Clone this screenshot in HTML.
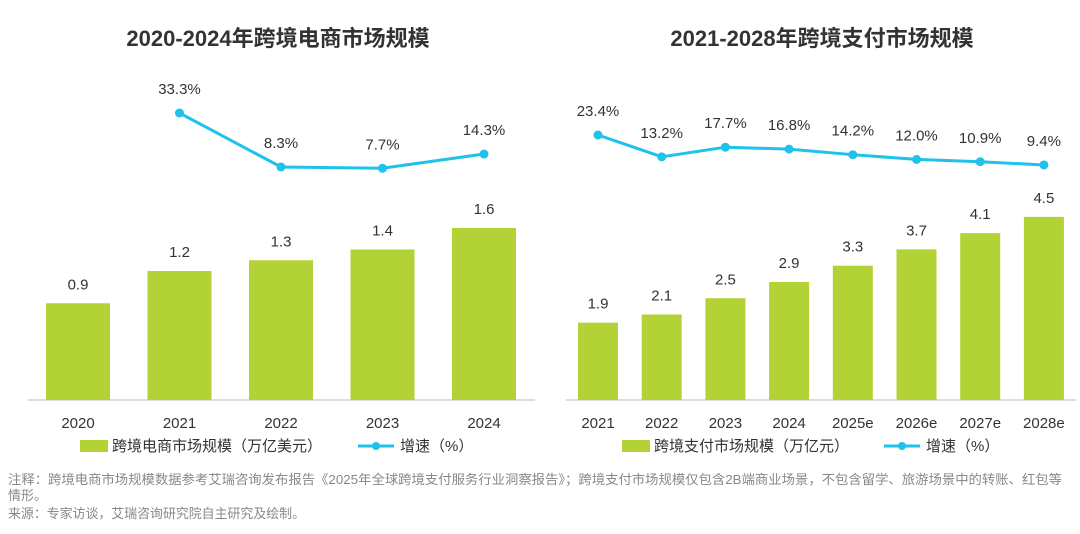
<!DOCTYPE html>
<html><head><meta charset="utf-8">
<style>
body{margin:0;background:#fff;width:1080px;height:529px;overflow:hidden;font-family:"Liberation Sans","Noto Sans CJK SC",sans-serif;}
svg text{font-family:"Liberation Sans","Noto Sans CJK SC",sans-serif;}
</style></head><body>
<svg id="c" width="1080" height="529" xmlns="http://www.w3.org/2000/svg">
<text x="278" y="46" text-anchor="middle" font-size="22" font-weight="bold" fill="#333">2020-2024年跨境电商市场规模</text>
<text x="822" y="46" text-anchor="middle" font-size="22" font-weight="bold" fill="#333">2021-2028年跨境支付市场规模</text>
<line x1="28" y1="400" x2="535" y2="400" stroke="#bbb"/>
<line x1="566" y1="400" x2="1076" y2="400" stroke="#bbb"/>
<g id="g"></g>
<rect x="80" y="440" width="28" height="12" fill="#b2d235"/>
<text x="112" y="451" font-size="15" fill="#333">跨境电商市场规模（万亿美元）</text>
<line x1="358" y1="446" x2="394" y2="446" stroke="#1fc2ea" stroke-width="3"/>
<circle cx="376" cy="446" r="4" fill="#1fc2ea"/>
<text x="400" y="451" font-size="15" fill="#333">增速（%）</text>
<rect x="622" y="440" width="28" height="12" fill="#b2d235"/>
<text x="654" y="451" font-size="15" fill="#333">跨境支付市场规模（万亿元）</text>
<line x1="884" y1="446" x2="920" y2="446" stroke="#1fc2ea" stroke-width="3"/>
<circle cx="902" cy="446" r="4" fill="#1fc2ea"/>
<text x="926" y="451" font-size="15" fill="#333">增速（%）</text>
<text x="8" y="484" font-size="13" textLength="1054" lengthAdjust="spacingAndGlyphs" fill="#888">注释：跨境电商市场规模数据参考艾瑞咨询发布报告《2025年全球跨境支付服务行业洞察报告》；跨境支付市场规模仅包含2B端商业场景，不包含留学、旅游场景中的转账、红包等</text>
<text x="8" y="500" font-size="13" fill="#888">情形。</text>
<text x="8" y="518" font-size="13" textLength="297" lengthAdjust="spacingAndGlyphs" fill="#888">来源：专家访谈，艾瑞咨询研究院自主研究及绘制。</text>
</svg>
<script>
const leftCats=["2020","2021","2022","2023","2024"];
const leftBars=[0.9,1.2,1.3,1.4,1.6];
const leftGrowth=[null,33.3,8.3,7.7,14.3];
const rightCats=["2021","2022","2023","2024","2025e","2026e","2027e","2028e"];
const rightBars=[1.9,2.1,2.5,2.9,3.3,3.7,4.1,4.5];
const rightGrowth=[23.4,13.2,17.7,16.8,14.2,12.0,10.9,9.4];
const NS="http://www.w3.org/2000/svg";
const g=document.getElementById('g');
function mk(t,a){const e=document.createElementNS(NS,t);for(const k in a)e.setAttribute(k,a[k]);g.appendChild(e);return e;}
function draw(side,cats,bars,growth,x0,step,bw,barScale,gy){
  const xs=i=>x0+i*step;
  const by=v=>400-v*barScale;
  cats.forEach((c,i)=>{
    const r=mk('rect',{x:xs(i)-bw/2,y:by(bars[i]),width:bw,height:400-by(bars[i]),fill:'#b2d235'});
    
    
    const t=mk('text',{x:xs(i),y:by(bars[i])-14,'text-anchor':'middle','font-size':15,fill:'#333'});
    t.textContent=bars[i].toFixed(1);
    
    
    const xl=mk('text',{x:xs(i),y:428,'text-anchor':'middle','font-size':15,fill:'#333'});
    xl.textContent=c;
    
    
  });
  const pts=[];
  growth.forEach((v,i)=>{if(v!==null)pts.push([xs(i),gy(v),v,cats[i]]);});
  const p=mk('polyline',{points:pts.map(q=>q[0]+','+q[1]).join(' '),fill:'none',stroke:'#1fc2ea','stroke-width':3});
  
  
  pts.forEach(q=>{
    const c=mk('circle',{cx:q[0],cy:q[1],r:4.5,fill:'#1fc2ea'});
    
    
    const t=mk('text',{x:q[0],y:q[1]-19,'text-anchor':'middle','font-size':15,fill:'#333'});
    t.textContent=q[2].toFixed(1)+'%';
    
    
  });
}
draw('left',leftCats,leftBars,leftGrowth,78,101.5,64,107.5,v=>167+(8.3-v)*2.16);
draw('right',rightCats,rightBars,rightGrowth,598,63.7,40,40.7,v=>135+(23.4-v)*2.14);
</script>
</body></html>
